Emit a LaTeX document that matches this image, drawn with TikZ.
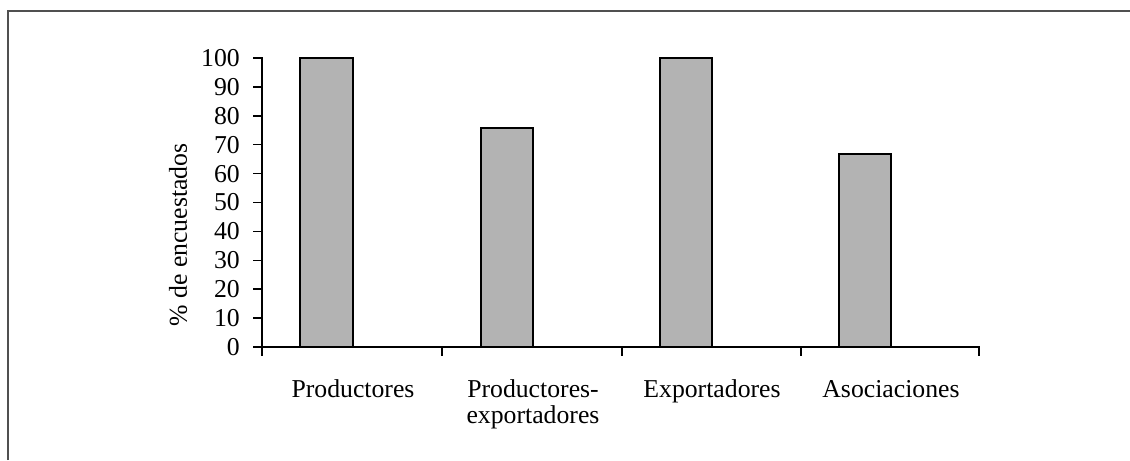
\documentclass[tikz,border=0pt]{standalone}
\usepackage{fontspec}
\setmainfont{Liberation Serif}
\definecolor{barfill}{HTML}{B3B3B3}
\definecolor{framegray}{HTML}{505050}
\begin{document}
\begin{tikzpicture}[x=0.75pt,y=-0.75pt,
  lbl/.style={font=\fontsize{19.3}{19.5}\selectfont, inner sep=0pt},
  ticklbl/.style={lbl, anchor=east},
  catlbl/.style={lbl, anchor=base, align=center},
  barbox/.style={draw=black, line width=1.1pt, fill=barfill},
  axisline/.style={line width=1.1pt, line cap=rect},
  frameline/.style={draw=framegray, line width=1.6pt}]
\useasboundingbox (0,0) rectangle (1130,460);
\draw[frameline] (8,460) -- (8,11) -- (1130,11);
% bars
\draw[barbox] (300,347) rectangle (353,58);
\draw[barbox] (481,347) rectangle (533,128);
\draw[barbox] (660,347) rectangle (712,58);
\draw[barbox] (839,347) rectangle (891,154);
% axes
\coordinate (o) at (262,347);
\coordinate (ytop) at (262,58);
\coordinate (xend) at (979,347);
\draw[axisline] (ytop) -- (o) -- (xend);
\foreach \v [count=\i from 0] in {0,10,...,100} {
  \coordinate (yt\i) at (262,{347-2.89*\v});
  \draw[axisline] (yt\i) -- ++(-8,0);
  \node[ticklbl] (yl\i) at (240,{347-2.89*\v}) {\v};
}
\foreach \xx [count=\i] in {262,442,622,801,979} {
  \coordinate (xt\i) at (\xx,347);
  \draw[axisline] (xt\i) -- ++(0,8);
}
\node[lbl, rotate=90] (ylab) at (178,235) {\% de encuestados};
\node[catlbl] (c1) at (353,397) {Productores};
\node[catlbl] (c2) at (533,423) {Productores-\\exportadores};
\node[catlbl] (c3) at (712,397) {Exportadores};
\node[catlbl] (c4) at (891,397) {Asociaciones};
\end{tikzpicture}
\end{document}
